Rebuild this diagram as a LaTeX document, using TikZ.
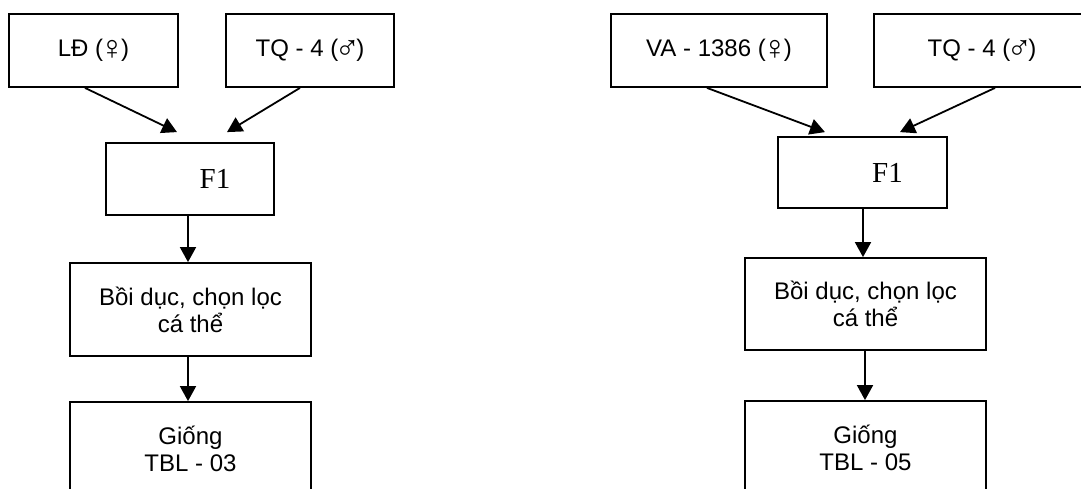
\documentclass[tikz,border=0pt]{standalone}
\usepackage{fontspec}
\setmainfont{Liberation Sans}
\newfontfamily\tmsfont{Liberation Serif}
\newcommand{\fem}{\makebox[18pt][c]{\raisebox{-3pt}{\fontsize{34}{27}\selectfont ♀}}}
\newcommand{\mal}{\makebox[18pt][c]{\raisebox{-3pt}{\fontsize{34}{27}\selectfont ♂}}}
\usetikzlibrary{arrows.meta}
\tikzset{
  box/.style={draw=black, line width=1.8pt, inner sep=0pt, align=center,
    font=\fontsize{24}{27}\selectfont},
  fbox/.style={box, font=\tmsfont\fontsize{29}{32}\selectfont},
  conn/.style={line width=1.8pt, -{Triangle[length=15pt,width=16pt]}},
}
\begin{document}
\begin{tikzpicture}[x=1pt,y=-1pt]
\useasboundingbox (0,0) rectangle (1081,488);
% left chain
\node[box, minimum width=169pt, minimum height=73pt] (ld) at (93.5,50.5) {LĐ (\fem)};
\node[box, minimum width=168pt, minimum height=73pt] (tqa) at (310,50.5) {TQ - 4 (\mal)};
\node[fbox, minimum width=168pt, minimum height=72pt] (fa) at (190,179) {\hspace*{50pt}F1};
\node[box, minimum width=241pt, minimum height=93pt] (bda) at (190.5,309.5) {Bồi dục, chọn lọc\\cá thể};
\node[box, minimum width=241pt, minimum height=94pt] (gia) at (190.5,449) {Giống\\TBL - 03};
% right chain
\node[box, minimum width=216pt, minimum height=73pt] (va) at (719,50.5) {VA - 1386 (\fem)};
\node[box, minimum width=216pt, minimum height=73pt] (tqb) at (982,50.5) {TQ - 4 (\mal)};
\node[fbox, minimum width=169pt, minimum height=71pt] (fb) at (862.5,172.5) {\hspace*{50pt}F1};
\node[box, minimum width=241pt, minimum height=92pt] (bdb) at (865.5,304) {Bồi dục, chọn lọc\\cá thể};
\node[box, minimum width=241pt, minimum height=94pt] (gib) at (865.5,448) {Giống\\TBL - 05};
% connectors left
\draw[conn] ([xshift=-8.5pt]ld.south) -- ([xshift=-13pt,yshift=10pt]fa.north);
\draw[conn] ([xshift=-10pt]tqa.south) -- ([xshift=37pt,yshift=10pt]fa.north);
\draw[conn] ([xshift=-2pt]fa.south) -- ([xshift=-2.5pt]bda.north);
\draw[conn] ([xshift=-2.5pt]bda.south) -- ([xshift=-2.5pt]gia.north);
% connectors right
\draw[conn] ([xshift=-12pt]va.south) -- ([xshift=-37.5pt,yshift=4pt]fb.north);
\draw[conn] ([xshift=13pt]tqb.south) -- ([xshift=37.5pt,yshift=4pt]fb.north);
\draw[conn] ([xshift=0.5pt]fb.south) -- ([xshift=-2.5pt]bdb.north);
\draw[conn] ([xshift=-0.5pt]bdb.south) -- ([xshift=-0.5pt]gib.north);
\end{tikzpicture}
\end{document}
